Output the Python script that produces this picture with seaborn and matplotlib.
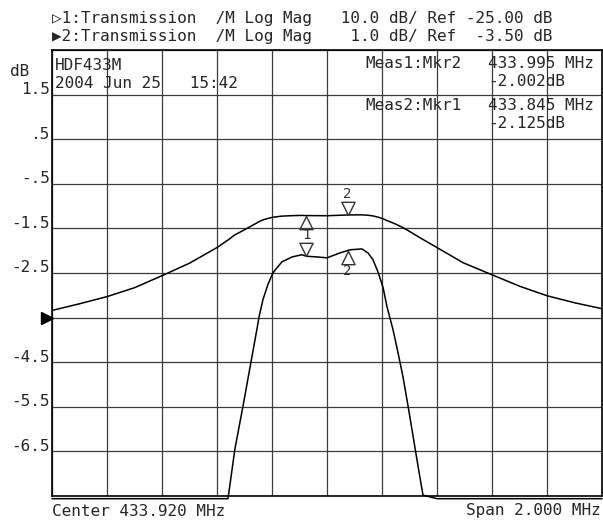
import numpy as np
import pandas as pd
import matplotlib
matplotlib.use("Agg")
import matplotlib.pyplot as plt
import matplotlib.transforms as mtransforms
import seaborn as sns

# S21 of the HDF433M filter (MHz, dB)
freq_mhz = [432.920, 433.020, 433.120, 433.220, 433.320, 433.420, 433.520,
            433.560, 433.585, 433.615, 433.644, 433.665, 433.673, 433.687,
            433.705, 433.724, 433.756, 433.793, 433.829, 433.845, 433.884,
            433.920, 433.967, 434.004, 434.047, 434.069, 434.087, 434.105,
            434.124, 434.138, 434.160, 434.178, 434.196, 434.215, 434.233,
            434.251, 434.269, 434.320, 434.415, 434.520, 434.622, 434.720,
            434.822, 434.920]
s21_db = [-23.4, -21.9, -20.3, -18.3, -15.6, -12.8, -9.3,
          -7.6, -6.45, -5.47, -4.48, -3.77, -3.48, -3.10,
          -2.76, -2.49, -2.25, -2.14, -2.09, -2.125, -2.14,
          -2.16, -2.05, -1.98, -1.96, -2.05, -2.20, -2.47,
          -2.83, -3.25, -3.77, -4.28, -4.82, -5.49, -6.16,
          -6.83, -7.48, -9.3, -12.7, -15.4, -18.0, -20.1,
          -21.7, -23.0]

center_mhz = 433.920
span_mhz = 2.000

# channel settings: trace 1 10 dB/div ref -25, trace 2 1 dB/div ref -3.5
ref_line = -3.5
tr1_scale, tr1_ref = 10.0, -25.00
tr2_scale, tr2_ref = 1.0, -3.50

mkr_freq = [433.845, 433.995]
mkr_db = [-2.125, -2.002]

y_ticks = [1.5, 0.5, -0.5, -1.5, -2.5, -4.5, -5.5, -6.5]
y_labels = ["1.5", ".5", "-.5", "-1.5", "-2.5", "-4.5", "-5.5", "-6.5"]

W, H = 603, 522


def px(x, y):
    return x / W, 1 - y / H


sns.set_style("white")
plt.rcParams["font.family"] = ["DejaVu Sans Mono", "DejaVu Sans"]

fig = plt.figure(figsize=(W / 100, H / 100), dpi=100)
ax = fig.add_axes([52 / W, 26 / H, 550 / W, 446 / H])

df = pd.DataFrame({"freq": freq_mhz, "db": s21_db})
df["tr1"] = ref_line + (df["db"] - tr1_ref) / tr1_scale
df["tr2"] = (ref_line + (df["db"] - tr2_ref) / tr2_scale).clip(lower=-7.56)

sns.lineplot(data=df, x="freq", y="tr1", ax=ax, color="black", lw=1.1,
             estimator=None, sort=False)
sns.lineplot(data=df, x="freq", y="tr2", ax=ax, color="black", lw=1.1,
             estimator=None, sort=False, clip_on=False)

f0 = center_mhz - span_mhz / 2
f1 = center_mhz + span_mhz / 2
ax.set_xlim(f0, f1)
ax.set_ylim(-7.5, 2.5)
ax.set_xticks(np.linspace(f0, f1, 11))
ax.set_yticks(np.arange(-7.5, 2.6, 1.0))
ax.grid(True, color="#3c3c3c", lw=0.9)
ax.tick_params(length=0, labelbottom=False, labelleft=False)
ax.set_xlabel("")
ax.set_ylabel("")
for s in ax.spines.values():
    s.set_color("black")
    s.set_linewidth(1.2)

# marker triangles with the tip on the trace
tri_down = [(0, 0), (-0.5, 1), (0.5, 1), (0, 0)]
tri_up = [(0, 0), (-0.5, -1), (0.5, -1), (0, 0)]
mk1 = [ref_line + (d - tr1_ref) / tr1_scale for d in mkr_db]
mk2 = [ref_line + (d - tr2_ref) / tr2_scale for d in mkr_db]
mstyle = dict(ls="none", ms=19, mfc="none", mec="#333333", mew=1.0)
ax.plot(mkr_freq[0], mk1[0], marker=tri_up, **mstyle)
ax.plot(mkr_freq[1], mk1[1], marker=tri_down, **mstyle)
ax.plot(mkr_freq[0], mk2[0], marker=tri_down, **mstyle)
ax.plot(mkr_freq[1], mk2[1], marker=tri_up, **mstyle)

lab_kw = dict(ha="center", va="center", fontsize=10, color="#333333")
ax.text(mkr_freq[1], mk1[1], "2",
        transform=mtransforms.offset_copy(ax.transData, fig, 0, 21, units="dots"), **lab_kw)
ax.text(mkr_freq[0], mk1[0], "1",
        transform=mtransforms.offset_copy(ax.transData, fig, 0, -19, units="dots"), **lab_kw)
ax.text(mkr_freq[1], mk2[1], "2",
        transform=mtransforms.offset_copy(ax.transData, fig, 0, -20, units="dots"), **lab_kw)

# reference position arrow
bt = mtransforms.blended_transform_factory(ax.transAxes, ax.transData)
ax.plot(-0.009, ref_line, marker=">", ms=9, color="black", transform=bt, clip_on=False)

fs = 11.5
for y, lab in zip(y_ticks, y_labels):
    ax.text(-0.004, y, lab, transform=mtransforms.offset_copy(bt, fig, 0, 5, units="dots"),
            ha="right", va="center", fontsize=fs)

fig.text(*px(52, 18), "▷1:Transmission  /M Log Mag   10.0 dB/ Ref -25.00 dB",
         va="center", fontsize=fs)
fig.text(*px(52, 37), "▶2:Transmission  /M Log Mag    1.0 dB/ Ref  -3.50 dB",
         va="center", fontsize=fs)
fig.text(*px(10, 71), "dB", va="center", fontsize=fs)
fig.text(*px(55, 66), "HDF433M", va="center", fontsize=fs)
fig.text(*px(55, 84), "2004 Jun 25   15:42", va="center", fontsize=fs)

fig.text(*px(365, 64), "Meas1:Mkr2", va="center", fontsize=fs)
fig.text(*px(488, 64), f"{mkr_freq[1]:.3f} MHz", va="center", fontsize=fs)
fig.text(*px(488, 82), f"{mkr_db[1]:.3f}dB", va="center", fontsize=fs)
fig.text(*px(365, 106), "Meas2:Mkr1", va="center", fontsize=fs)
fig.text(*px(488, 106), f"{mkr_freq[0]:.3f} MHz", va="center", fontsize=fs)
fig.text(*px(488, 123), f"{mkr_db[0]:.3f}dB", va="center", fontsize=fs)

fig.text(*px(52, 511), f"Center {center_mhz:.3f} MHz", va="center", fontsize=fs)
fig.text(*px(601, 511), f"Span {span_mhz:.3f} MHz", va="center", ha="right", fontsize=fs)

fig.savefig("out.png", dpi=100, facecolor="white")
